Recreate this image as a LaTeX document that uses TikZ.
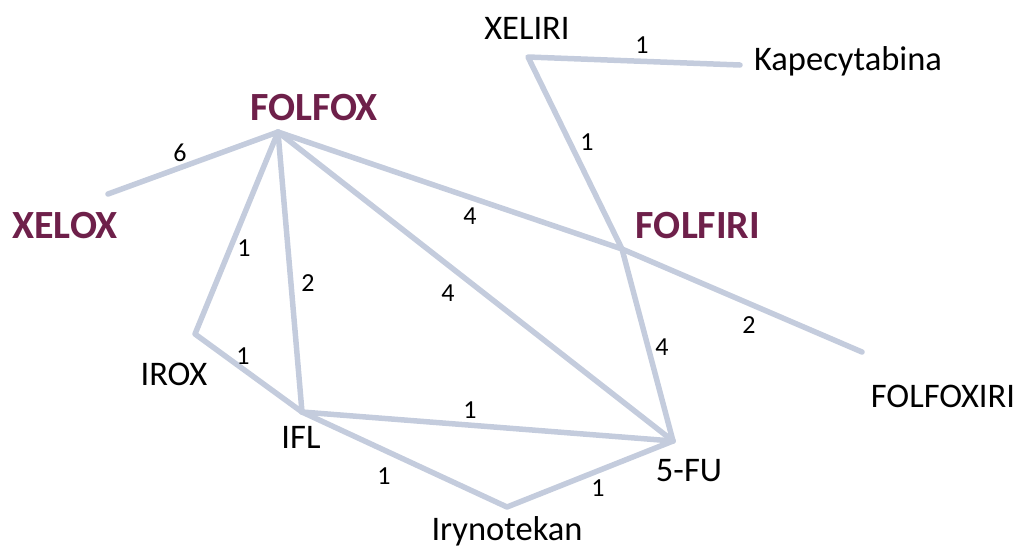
\documentclass[tikz,border=0pt]{standalone}
\usepackage{fontspec}
\setmainfont{Carlito}
\definecolor{edgegray}{RGB}{196,204,221}
\definecolor{regimen}{RGB}{110,32,74}
\tikzset{
  link/.style={draw=edgegray, line width=5.5pt, line cap=round, line join=round},
  drug/.style={inner sep=0pt, font=\fontsize{34.5}{38}\selectfont},
  major/.style={inner sep=0pt, text=regimen, font=\fontsize{40}{44}\selectfont\bfseries},
  weight/.style={inner sep=0pt, font=\fontsize{26}{30}\selectfont},
}
\begin{document}
\begin{tikzpicture}[x=1pt,y=-1pt]
\useasboundingbox (0,0) rectangle (1019,547);
% graph vertices
\coordinate (folfox) at (278,132);
\coordinate (xelox) at (108,194);
\coordinate (xeliri) at (528,57);
\coordinate (kape) at (740,65);
\coordinate (folfiri) at (622,249);
\coordinate (folfoxiri) at (862,352);
\coordinate (fu) at (673,441);
\coordinate (irox) at (195,334);
\coordinate (ifl) at (302,412);
\coordinate (iryno) at (507,507);
% connections
\draw[link] (xelox) -- (folfox);
\draw[link] (kape) -- (xeliri) -- (folfiri) -- (fu);
\draw[link] (folfox) -- (folfiri) -- (folfoxiri);
\draw[link] (folfox) -- (fu);
\draw[link] (folfox) -- (irox) -- (ifl);
\draw[link] (folfox) -- (ifl);
\draw[link] (ifl) -- (fu);
\draw[link] (ifl) -- (iryno) -- (fu);
% vertex labels
\node[major] (tfolfox) at (314,108) {FOLFOX};
\node[major] (txelox) at (65,226) {XELOX};
\node[major] (tfolfiri) at (698,226) {FOLFIRI};
\node[drug] (txeliri) at (527,28) {XELIRI};
\node[drug] (tkape) at (848,61) {Kapecytabina};
\node[drug] (tfolfoxiri) at (943,396) {FOLFOXIRI};
\node[drug] (tfu) at (689,471) {5-FU};
\node[drug] (tirox) at (174,374) {IROX};
\node[drug] (tifl) at (301,437) {IFL};
\node[drug] (tiryno) at (507,531) {Irynotekan};
% edge weights
\node[weight] (w1) at (180,153) {6};
\node[weight] (w2) at (642,45) {1};
\node[weight] (w3) at (587,142) {1};
\node[weight] (w4) at (470,216) {4};
\node[weight] (w5) at (244,248) {1};
\node[weight] (w6) at (308,283) {2};
\node[weight] (w7) at (448,293) {4};
\node[weight] (w8) at (749,325) {2};
\node[weight] (w9) at (662,347) {4};
\node[weight] (w10) at (243,356) {1};
\node[weight] (w11) at (470,410) {1};
\node[weight] (w12) at (384,476) {1};
\node[weight] (w13) at (598,488) {1};
\end{tikzpicture}
\end{document}
